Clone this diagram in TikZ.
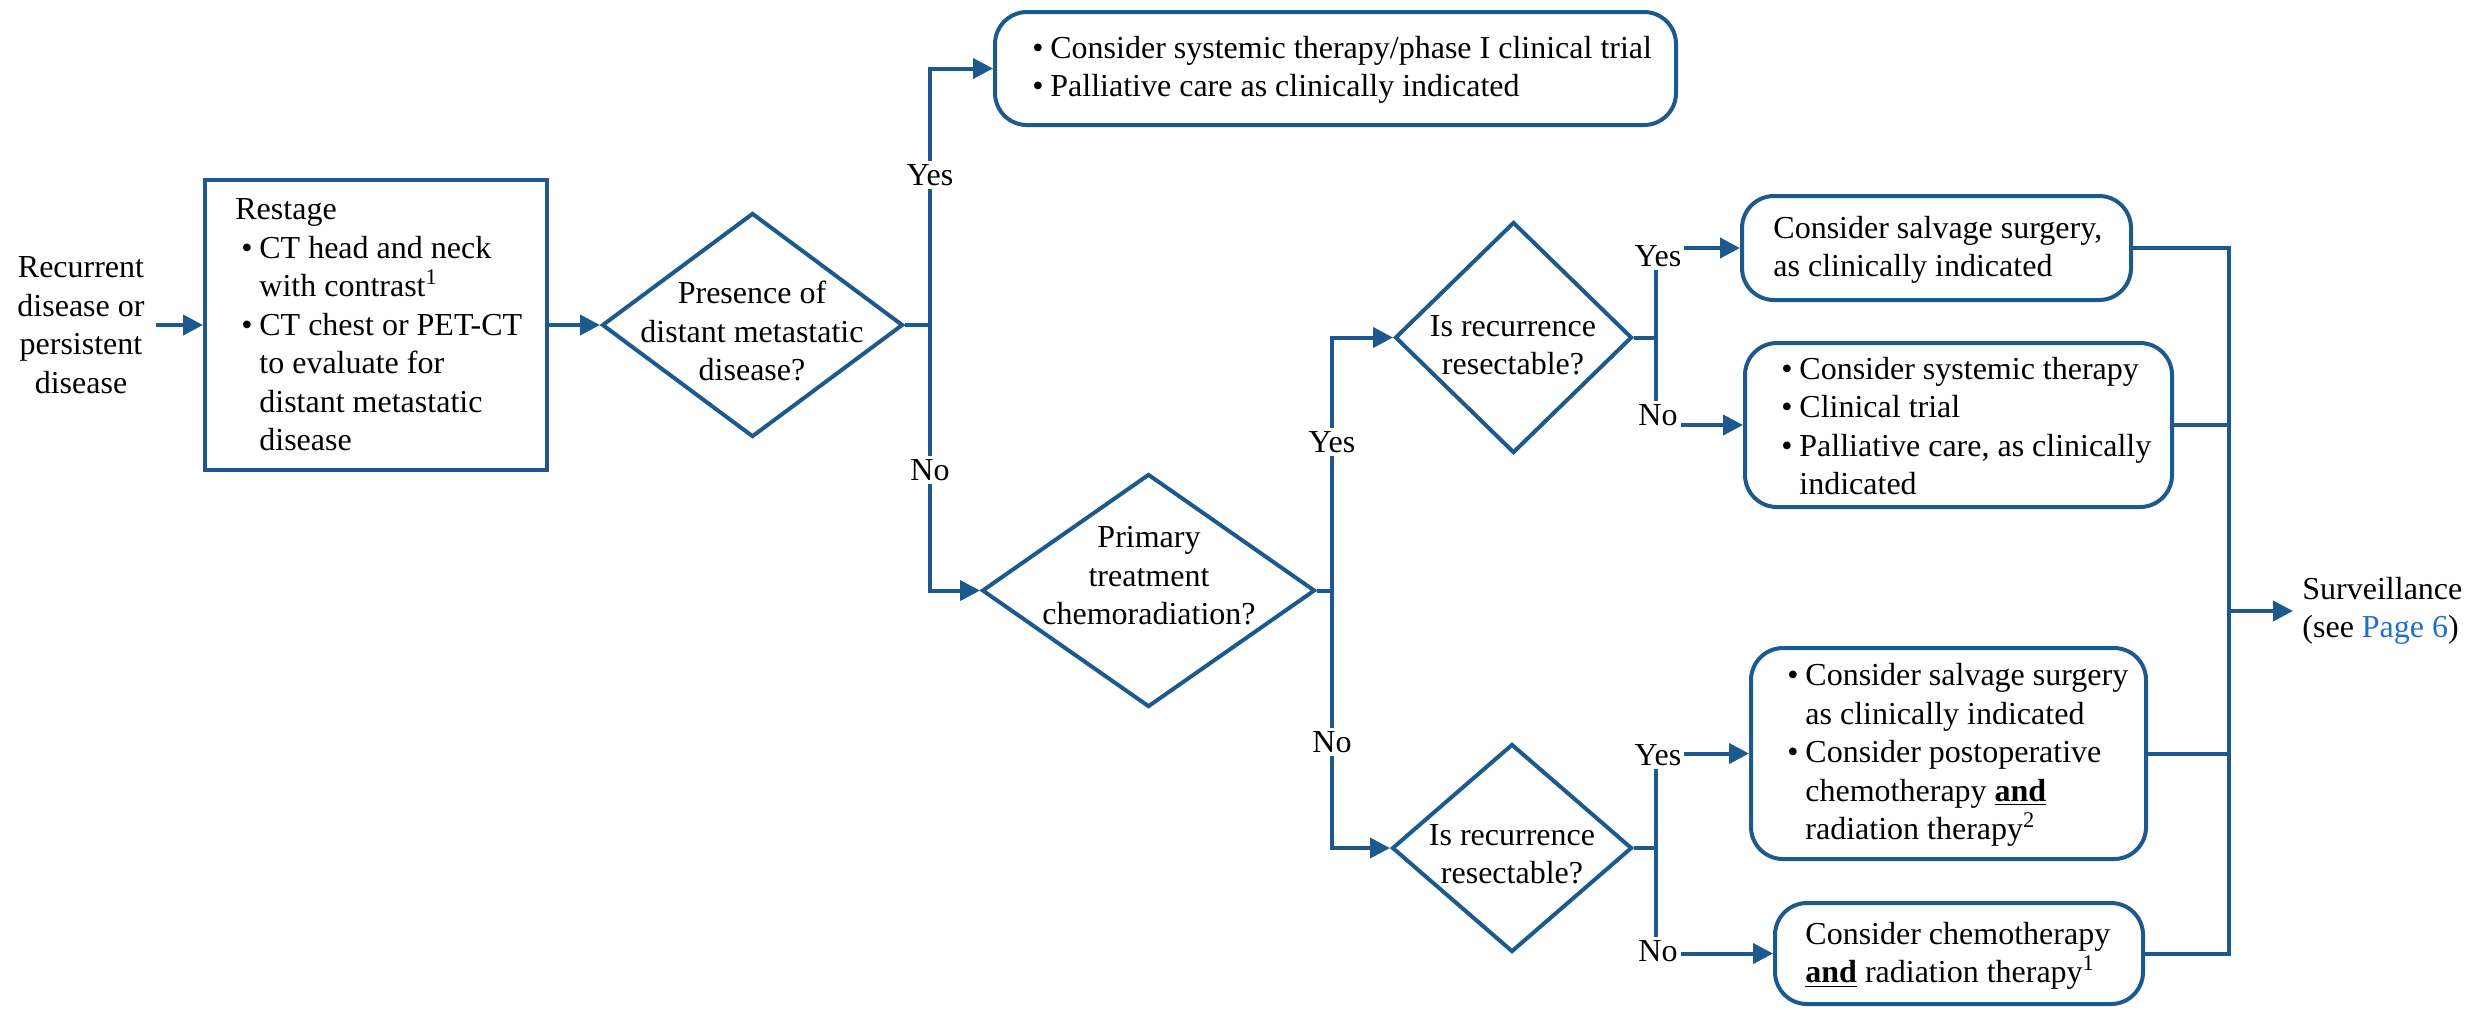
\documentclass[tikz,border=0pt]{standalone}
\usepackage{fontspec}
\setmainfont{Liberation Serif}
\usetikzlibrary{shapes.geometric,arrows.meta}
\definecolor{ln}{RGB}{28,89,140}
\definecolor{lnk}{RGB}{30,110,210}
\newcommand{\bul}{\makebox[9pt][l]{\textbullet}}
\newcommand{\ind}{\hspace*{9pt}}
\begin{document}
\begin{tikzpicture}[x=0.5pt,y=-0.5pt,
  every node/.style={font=\fontsize{16}{19.25}\selectfont, text=black},
  conn/.style={draw=ln, line width=2pt},
  arr/.style={conn, -{Triangle[length=10pt,width=10pt]}},
  sqbox/.style={draw=ln, line width=2pt, rectangle, inner sep=0pt},
  rbox/.style={sqbox, rounded corners=16pt},
  dia/.style={draw=ln, line width=2pt, diamond, inner sep=0pt},
  txt/.style={align=left, inner sep=0pt, anchor=west},
  ctxt/.style={align=center, inner sep=0pt},
  lab/.style={fill=white, inner sep=1.5pt},
]
\useasboundingbox (0,0) rectangle (2492,1009);

% boxes
\node[sqbox, minimum width=171pt, minimum height=145pt] (R) at (376,325) {};
\node[rbox, minimum width=340.5pt, minimum height=56.5pt] (T) at (1335.5,68.5) {};
\node[rbox, minimum width=194.5pt, minimum height=52pt] (A) at (1936.5,248) {};
\node[rbox, minimum width=213.5pt, minimum height=82pt] (B) at (1958.5,425) {};
\node[rbox, minimum width=197.5pt, minimum height=105.5pt] (C) at (1948.5,753.5) {};
\node[rbox, minimum width=184pt, minimum height=50.5pt] (D) at (1959,953.5) {};

% diamonds
\node[dia, minimum width=150.5pt, minimum height=112pt] (d1) at (752.5,325) {};
\node[dia, minimum width=166.5pt, minimum height=116.5pt] (d2) at (1148.5,590.5) {};
\node[dia, minimum width=118.5pt, minimum height=115.5pt] (d3) at (1513.5,337.5) {};
\node[dia, minimum width=120pt, minimum height=104pt] (d4) at (1512,848) {};

% texts
\node[ctxt, inner sep=5.5pt] (rec) at (81,325) {Recurrent\\disease or\\persistent\\disease};
\node[txt] (Rt) at (241,325) {\hspace*{-3pt}Restage\\
\bul CT head and neck\\
\ind with contrast\textsuperscript{1}\\
\bul CT chest or PET-CT\\
\ind to evaluate for\\
\ind distant metastatic\\
\ind disease};
\node[txt] (Tt) at (1032,70) {\bul Consider systemic therapy/phase I clinical trial\\
\bul Palliative care as clinically indicated};
\node[txt] (At) at (1773,250) {Consider salvage surgery,\\as clinically indicated};
\node[txt] (Bt) at (1781,426) {\bul Consider systemic therapy\\
\bul Clinical trial\\
\bul Palliative care, as clinically\\
\ind indicated};
\node[txt] (Ct) at (1787,755) {\bul Consider salvage surgery\\
\ind as clinically indicated\\
\bul Consider postoperative\\
\ind chemotherapy \textbf{\underline{and}}\\
\ind radiation therapy\textsuperscript{2}};
\node[txt] (Dt) at (1805,956) {Consider chemotherapy\\
\textbf{\underline{and}} radiation therapy\textsuperscript{1}};
\node[ctxt] (d1t) at (752,331) {Presence of\\distant metastatic\\disease?};
\node[ctxt] (d2t) at (1149,576) {Primary\\treatment\\chemoradiation?};
\node[ctxt] (d3t) at (1513,345) {Is recurrence\\resectable?};
\node[ctxt] (d4t) at (1512,854) {Is recurrence\\resectable?};
\node[txt, inner xsep=4.5pt] (surv) at (2293,611) {Surveillance\\(see \textcolor{lnk}{Page 6})};

% junctions
\coordinate (j1) at (930,325);
\coordinate (j2) at (1332,590.5);
\coordinate (j3) at (1656,337.5);
\coordinate (j4) at (1656,848);
\coordinate (j5) at (2229,611);

% connectors
\draw[arr] (rec.east) -- (R.west);
\draw[arr] (R.east) -- (d1.west);
\draw[conn] (d1.east) -- (j1);
\draw[arr] (j1) |- (T.west);
\draw[arr] (j1) |- (d2.west);

\draw[conn] (d2.east) -- (j2);
\draw[arr] (j2) |- (d3.west);
\draw[arr] (j2) |- (d4.west);

\draw[conn] (d3.east) -- (j3);
\draw[arr] (j3) |- (A.west);
\draw[arr] (j3) |- (B.west);

\draw[conn] (d4.east) -- (j4);
\draw[arr] (j4) |- (C.west);
\draw[arr] (j4) |- (D.west);

\draw[conn] (A.east) -| (j5);
\draw[conn] (D.east) -| (j5);
\draw[conn] (B.east) -- (B.east -| j5);
\draw[conn] (C.east) -- (C.east -| j5);
\draw[arr] (j5) -- (surv.west);

% labels
\node[lab] (y1) at (930,175) {Yes};
\node[lab] (n1) at (930,470) {No};
\node[lab] (y2) at (1332,442) {Yes};
\node[lab] (n2) at (1332,742) {No};
\node[lab] (y3) at (1658,256) {Yes};
\node[lab] (n3) at (1658,415) {No};
\node[lab] (y4) at (1658,755) {Yes};
\node[lab] (n4) at (1658,951) {No};
\end{tikzpicture}
\end{document}
